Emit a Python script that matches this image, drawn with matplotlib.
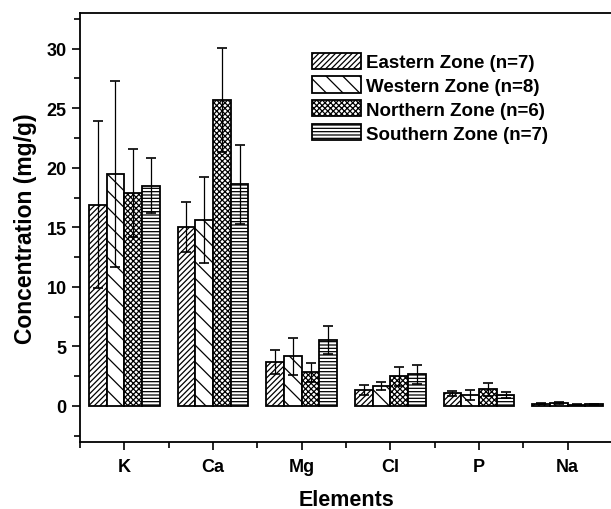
import matplotlib
matplotlib.use("Agg")
import matplotlib.pyplot as plt
import numpy as np
from matplotlib.ticker import MultipleLocator, FixedLocator

plt.rcParams['font.family'] = ['Liberation Sans', 'DejaVu Sans']
plt.rcParams['font.weight'] = 'bold'
plt.rcParams['hatch.linewidth'] = 0.9

elements = ["K", "Ca", "Mg", "Cl", "P", "Na"]
zones = ["Eastern Zone (n=7)", "Western Zone (n=8)", "Northern Zone (n=6)", "Southern Zone (n=7)"]
eastern = [16.9, 15.0, 3.72, 1.37, 1.06, 0.20]
western = [19.5, 15.6, 4.18, 1.68, 0.95, 0.25]
northern = [17.9, 25.7, 2.83, 2.49, 1.40, 0.10]
southern = [18.5, 18.6, 5.52, 2.66, 0.95, 0.15]
eastern_err = [7.0, 2.1, 1.0, 0.42, 0.22, 0.06]
western_err = [7.8, 3.6, 1.56, 0.36, 0.42, 0.08]
northern_err = [3.7, 4.4, 0.8, 0.78, 0.53, 0.05]
southern_err = [2.3, 3.3, 1.18, 0.78, 0.25, 0.04]

series = [eastern, western, northern, southern]
errors = [eastern_err, western_err, northern_err, southern_err]
hatches = ["//////", "\\\\", "xxxxxx", "-----"]

fig = plt.figure(figsize=(6.11, 5.10), dpi=100)
ax = fig.add_axes([80/611, (510-442.7)/510, (612-80)/611, (442.7-14)/510])

x = np.arange(len(elements))
w = 0.2
for i, (vals, errs, h, lab) in enumerate(zip(series, errors, hatches, zones)):
    pos = x + (i - 1.5) * w
    ax.bar(pos, vals, width=w, color="white", edgecolor="black", hatch=h,
           linewidth=1.3, label=lab, zorder=2)
    ax.errorbar(pos, vals, yerr=errs, fmt="none", ecolor="black",
                elinewidth=0.9, capsize=3.3, capthick=1.2, zorder=3)

ax.set_xlim(-0.5, 5.5)
ax.set_ylim(-3, 33)
ax.set_xticks(x)
ax.set_xticklabels(elements)
ax.xaxis.set_minor_locator(FixedLocator(np.arange(-0.5, 6, 1.0)))
ax.yaxis.set_minor_locator(MultipleLocator(2.5))
ax.set_yticks([0, 5, 10, 15, 20, 25, 30])

ax.tick_params(axis="both", which="major", direction="out", length=6, width=1.2,
               labelsize=13)
ax.tick_params(axis="x", which="major", pad=6)
ax.tick_params(axis="both", which="minor", direction="out", length=4, width=1.2)
for lbl in ax.get_xticklabels() + ax.get_yticklabels():
    lbl.set_fontweight("bold")

for s in ["left", "bottom", "top"]:
    ax.spines[s].set_linewidth(1.3)
ax.spines["right"].set_visible(False)

ax.set_ylabel("Concentration (mg/g)", fontsize=16.5, fontweight="bold", labelpad=7)
ax.set_xlabel("Elements", fontsize=15.5, fontweight="bold", labelpad=10)

leg = ax.legend(loc="upper left", bbox_to_anchor=(0.422, 0.925), frameon=False,
                fontsize=13.5, handlelength=2.6, handleheight=0.95,
                labelspacing=0.28, handletextpad=0.3, borderaxespad=0)
for t in leg.get_texts():
    t.set_fontweight("bold")

fig.savefig("out.png", dpi=100)
